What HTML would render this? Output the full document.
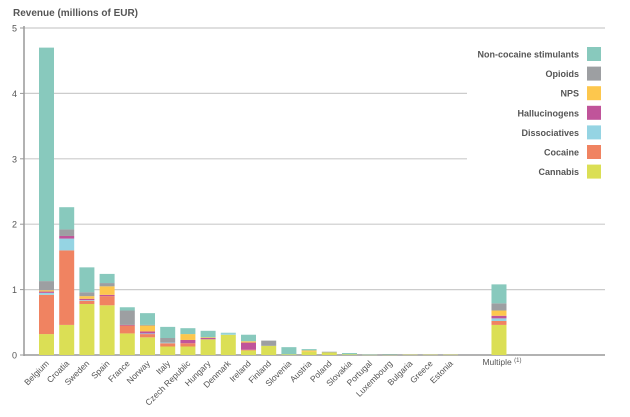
<!DOCTYPE html>
<html><head><meta charset="utf-8"><style>
body{margin:0;background:#fff;font-family:"Liberation Sans",sans-serif}
svg text{font-family:"Liberation Sans",sans-serif;fill:#555}
</style></head><body>
<svg id="chart" width="630" height="412" xmlns="http://www.w3.org/2000/svg">
<text x="13" y="16" font-size="10" font-weight="bold">Revenue (millions of EUR)</text>
<g id="grid"></g><g id="bars"></g><g id="labels"></g><g id="legend"></g>
</svg>
<script>
const categories=["Belgium","Croatia","Sweden","Spain","France","Norway","Italy","Czech Republic","Hungary","Denmark","Ireland","Finland","Slovenia","Austria","Poland","Slovakia","Portugal","Luxembourg","Bulgaria","Greece","Estonia","Multiple"];
const seriesNames=["Cannabis","Cocaine","Dissociatives","Hallucinogens","NPS","Opioids","Non-cocaine stimulants"];
const cannabis=[0.32,0.46,0.78,0.76,0.33,0.27,0.13,0.13,0.24,0.31,0.07,0.14,0.01,0.05,0.04,0.01,0.004,0.004,0.005,0.005,0.005,0.46];
const cocaine=[0.60,1.14,0.05,0.14,0.12,0.05,0.05,0.05,0,0,0.01,0,0,0,0,0,0,0,0,0,0,0.06];
const dissociatives=[0.03,0.18,0.01,0,0,0.01,0.01,0,0,0.02,0,0,0,0,0,0,0,0,0,0,0,0.04];
const hallucinogens=[0.02,0.04,0.02,0.02,0.01,0.03,0,0.05,0.02,0,0.11,0,0,0,0,0,0,0,0,0,0,0.04];
const nps=[0.02,0,0.04,0.13,0,0.09,0,0.09,0.01,0,0.02,0,0,0.02,0,0,0,0,0,0,0,0.08];
const opioids=[0.14,0.10,0.06,0.05,0.22,0.01,0.07,0,0,0,0,0.08,0,0,0.01,0,0,0.004,0,0,0,0.11];
const stimulants=[3.57,0.34,0.38,0.14,0.05,0.18,0.17,0.09,0.10,0.01,0.10,0,0.11,0.02,0,0.02,0.001,0.006,0,0,0,0.29];
const yTicks=[0,1,2,3,4,5];
const colors=["#dbdf55","#f08361","#95d4e3","#c0549a","#fdc74d","#9d9fa2","#88c9bd"];
const series=[cannabis,cocaine,dissociatives,hallucinogens,nps,opioids,stimulants];
const NS="http://www.w3.org/2000/svg";
const y=v=>355-v*65.4;
const x=i=>46.5+20.2*(i===categories.length-1?22.4:i);
function mk(t,a,p){const e=document.createElementNS(NS,t);for(const k in a)e.setAttribute(k,a[k]);p.appendChild(e);return e;}
const grid=document.getElementById('grid');
yTicks.forEach(t=>{
  const right=(t===3||t===4)?467:605;
  const l=mk('line',{x1:24,x2:right,y1:y(t),y2:y(t),stroke:t===0?'#999':'#ccc','stroke-width':t===0?1.5:1.2},grid);
  
  
  const tk=mk('line',{x1:20,x2:24,y1:y(t),y2:y(t),stroke:'#999'},grid);
  
  
  const tx=mk('text',{x:17,y:y(t)+3.5,'font-size':9,'text-anchor':'end'},grid);
  tx.textContent=t;
  
  
});
const ax=mk('line',{x1:24,x2:24,y1:26,y2:356,stroke:'#999','stroke-width':1.5},grid);


const bars=document.getElementById('bars');
categories.forEach((c,i)=>{
  let base=0;
  series.forEach((s,k)=>{
    const v=s[i];if(!v)return;
    const r=mk('rect',{x:x(i)-7.5,width:15,y:y(base+v),height:Math.max(v*65.4,0.4),fill:colors[k]},bars);
    
    
    base+=v;
  });
  const lb=document.getElementById('labels');
  const t=mk('text',{'font-size':8.5,'text-anchor':'end',transform:`translate(${x(i)+3},${i===categories.length-1?365:364}) rotate(${i===categories.length-1?0:-45})`},lb);
  if(i===categories.length-1){t.setAttribute('text-anchor','middle');t.innerHTML='Multiple <tspan font-size="6" dy="-3">(1)</tspan>';}
  else t.textContent=c;
  
  
});
const lg=document.getElementById('legend');
[6,5,4,3,2,1,0].forEach((k,j)=>{
  const cy=54+19.6*j;
  const r=mk('rect',{x:587,y:cy-7,width:14,height:14,fill:colors[k]},lg);
  
  
  const t=mk('text',{x:579,y:cy+3.5,'font-size':9,'font-weight':'bold','text-anchor':'end'},lg);
  t.textContent=seriesNames[k];
  
  
});
</script>
</body></html>
